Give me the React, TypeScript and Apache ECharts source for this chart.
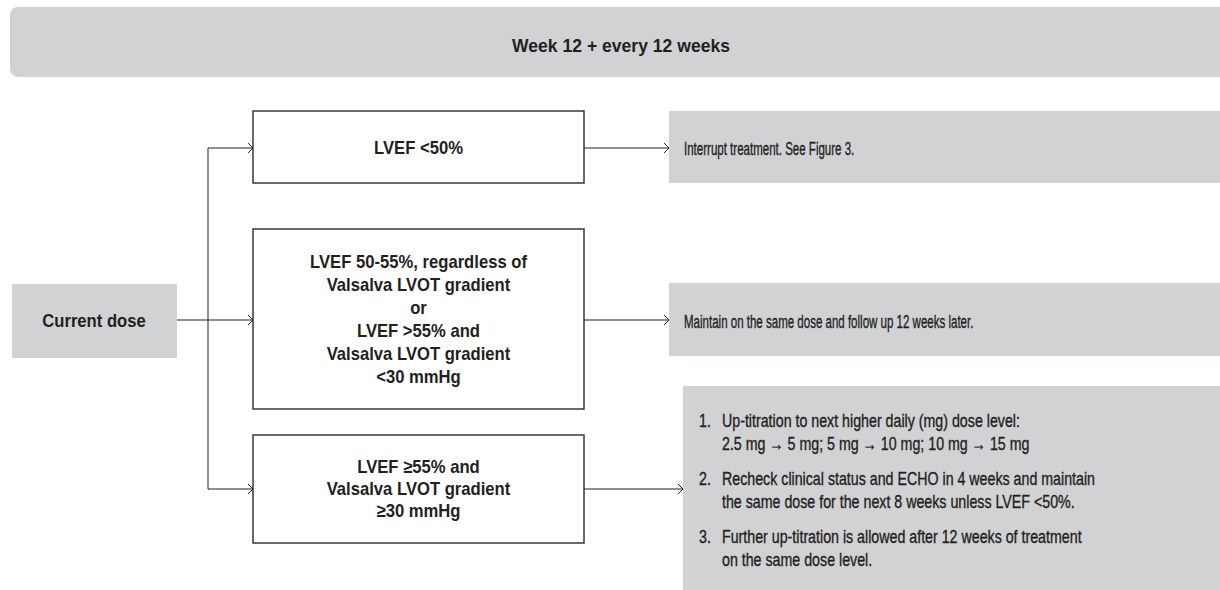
import React, { useEffect, useRef } from "react";
import * as echarts from "echarts";

const headerText = "Week 12 + every 12 weeks";
const startLabel = "Current dose";
const conditions = [
  "LVEF <50%",
  "LVEF 50-55%, regardless of\nValsalva LVOT gradient\nor\nLVEF >55% and\nValsalva LVOT gradient\n<30 mmHg",
  "LVEF ≥55% and\nValsalva LVOT gradient\n≥30 mmHg",
];
const actions = [
  "Interrupt treatment. See Figure 3.",
  "Maintain on the same dose and follow up 12 weeks later.",
];
const stepNumbers = ["1.", "2.", "3."];
const stepTexts = [
  ["Up-titration to next higher daily (mg) dose level:", "2.5 mg → 5 mg; 5 mg → 10 mg; 10 mg → 15 mg"],
  ["Recheck clinical status and ECHO in 4 weeks and maintain", "the same dose for the next 8 weeks unless LVEF <50%."],
  ["Further up-titration is allowed after 12 weeks of treatment", "on the same dose level."],
];

const GRAY = "#d1d2d4";
const INK = "#231f20";
const FONT = "'Liberation Sans', Arial, sans-serif";

function boldText(x: number, y: number, text: string, lh = 23, sx = 0.9) {
  return {
    type: "text",
    x,
    y,
    scaleX: sx,
    silent: true,
    style: {
      text,
      fontSize: 18.5,
      fontWeight: "bold",
      fontFamily: FONT,
      fill: INK,
      align: "center",
      verticalAlign: "middle",
      lineHeight: lh,
    },
  };
}

function regText(x: number, y: number, text: string, sx = 0.79) {
  return {
    type: "text",
    x,
    y,
    scaleX: sx,
    silent: true,
    style: {
      text,
      fontSize: 18,
      fontFamily: FONT,
      fill: INK,
      stroke: INK,
      lineWidth: 0.35,
      align: "left",
      verticalAlign: "middle",
    },
  };
}

function arrow(x1: number, x2: number, y: number) {
  return [
    { type: "line", silent: true, shape: { x1, y1: y, x2, y2: y }, style: { stroke: INK, lineWidth: 1 } },
    {
      type: "polyline",
      silent: true,
      shape: { points: [[x2 - 5, y - 5], [x2, y], [x2 - 5, y + 5]] },
      style: { stroke: INK, lineWidth: 1, fill: "none" },
    },
  ];
}

export default function App() {
  const ref = useRef<HTMLDivElement>(null);
  useEffect(() => {
    if (!ref.current) return;
    const chart = echarts.init(ref.current, undefined, { renderer: "svg" });
    const elements: any[] = [];

    // header
    elements.push({
      type: "rect",
      silent: true,
      shape: { x: 10, y: 7, width: 1230, height: 70, r: [8, 0, 0, 8] },
      style: { fill: GRAY },
    });
    elements.push(boldText(621, 46, headerText, 23, 0.95));

    // start box
    elements.push({
      type: "rect",
      silent: true,
      shape: { x: 12, y: 284, width: 165, height: 74 },
      style: { fill: GRAY },
    });
    elements.push(boldText(94, 321, startLabel));

    // condition boxes
    const condBoxes = [
      { y: 111, h: 72 },
      { y: 229, h: 180 },
      { y: 435, h: 108 },
    ];
    const arrowYs = [148, 320, 489];
    const bx = 253;
    const bw = 331;
    condBoxes.forEach((b, i) => {
      elements.push({
        type: "rect",
        silent: true,
        shape: { x: bx, y: b.y, width: bw, height: b.h },
        style: { fill: "#fff", stroke: "#3a3a3a", lineWidth: 1.5 },
      });
      elements.push(boldText(bx + bw / 2, arrowYs[i] + (i === 1 ? -1 : 0), conditions[i], i === 2 ? 22 : 23));
    });

    // branch lines
    elements.push({
      type: "line",
      silent: true,
      shape: { x1: 208, y1: arrowYs[0], x2: 208, y2: arrowYs[2] },
      style: { stroke: INK, lineWidth: 1 },
    });
    elements.push(...arrow(177, bx, arrowYs[1]));
    elements.push(...arrow(208, bx, arrowYs[0]));
    elements.push(...arrow(208, bx, arrowYs[2]));

    // action boxes
    const actBoxes = [
      { x: 669, y: 111, h: 72 },
      { x: 669, y: 283, h: 73 },
      { x: 683, y: 386, h: 210 },
    ];
    actBoxes.forEach((b, i) => {
      elements.push({
        type: "rect",
        silent: true,
        shape: { x: b.x, y: b.y, width: 1240 - b.x, height: b.h },
        style: { fill: GRAY },
      });
      elements.push(...arrow(bx + bw, b.x, arrowYs[i]));
    });
    elements.push(regText(684, 148, actions[0], 0.64));
    elements.push(regText(684, 321, actions[1], 0.64));

    const stepY = [420, 478, 536];
    stepTexts.forEach((lines, i) => {
      elements.push(regText(699, stepY[i], stepNumbers[i]));
      lines.forEach((ln, j) => {
        elements.push(regText(722, stepY[i] + j * 23, ln));
      });
    });

    chart.setOption({ animation: false, graphic: { elements } });
    return () => chart.dispose();
  }, []);
  return <div ref={ref} style={{ position: "absolute", left: 0, top: 0, width: 1220, height: 590, background: "#fff" }} />;
}
